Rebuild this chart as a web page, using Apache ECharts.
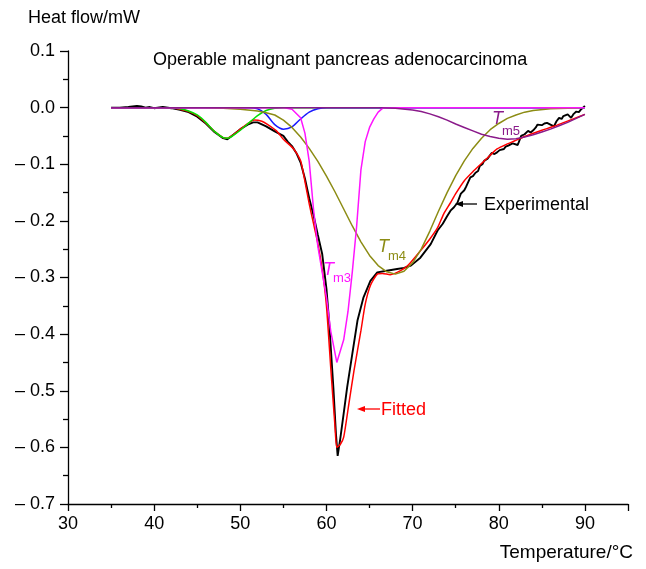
<!DOCTYPE html>
<html><head><meta charset="utf-8">
<script src="https://cdn.jsdelivr.net/npm/echarts/dist/echarts.min.js"></script>
<style>html,body{margin:0;padding:0;background:#fff}#c{width:646px;height:569px}</style>
</head><body><div id="c"></div>
<script>
// ---- data (Temperature °C, Heat flow mW) ----
const experimental = [[35,0],[36,0],[37,0.001],[37.5,0.002],[38,0.003],[38.5,0.002],[39,0],[39.5,0.001],[40,-0.001],[41,0.001],[42,-0.001],[43,-0.004],[44,-0.008],[45,-0.016],[46,-0.028],[47,-0.043],[48,-0.054],[48.5,-0.056],[49,-0.05],[50,-0.038],[51,-0.029],[51.5,-0.026],[52,-0.026],[53,-0.033],[54,-0.042],[55,-0.05],[55.5,-0.06],[56,-0.068],[56.5,-0.08],[57,-0.097],[57.5,-0.125],[58,-0.16],[58.5,-0.19],[59,-0.225],[59.5,-0.258],[60,-0.32],[60.3,-0.376],[60.8,-0.494],[61.1,-0.576],[61.3,-0.615],[61.6,-0.585],[62,-0.54],[62.4,-0.494],[63,-0.435],[63.6,-0.376],[64.3,-0.335],[65.1,-0.306],[65.9,-0.291],[67,-0.288],[68.2,-0.285],[69,-0.283],[69.8,-0.279],[70.9,-0.265],[72.1,-0.241],[72.9,-0.217],[73.5,-0.205],[74,-0.192],[74.4,-0.182],[74.8,-0.176],[75.2,-0.168],[75.6,-0.152],[76,-0.146],[76.2,-0.14],[76.7,-0.123],[77,-0.121],[77.3,-0.115],[77.6,-0.112],[77.8,-0.103],[78.1,-0.1],[78.3,-0.094],[78.7,-0.09],[79,-0.084],[79.2,-0.08],[79.5,-0.082],[79.8,-0.079],[80.1,-0.075],[80.3,-0.072],[80.6,-0.073],[80.8,-0.069],[81.1,-0.067],[81.3,-0.065],[81.6,-0.063],[81.8,-0.062],[82.2,-0.066],[82.6,-0.05],[83,-0.047],[83.4,-0.041],[83.7,-0.044],[84,-0.04],[84.3,-0.035],[84.5,-0.03],[85,-0.031],[85.3,-0.028],[85.6,-0.027],[86,-0.03],[86.4,-0.033],[86.7,-0.024],[87,-0.018],[87.3,-0.02],[87.5,-0.015],[88,-0.012],[88.4,-0.018],[88.7,-0.011],[89,-0.007],[89.3,-0.008],[89.5,-0.004],[90,0.003]];
const fitted = [[35,0],[42,0],[43,-0.003],[44,-0.007],[45,-0.014],[46,-0.027],[47,-0.042],[48,-0.053],[48.5,-0.054],[49,-0.05],[50,-0.038],[51,-0.027],[51.6,-0.022],[52.5,-0.024],[53.1,-0.029],[54.2,-0.041],[55,-0.056],[56.2,-0.073],[57,-0.094],[57.5,-0.13],[58,-0.17],[58.5,-0.205],[59,-0.24],[59.5,-0.285],[60,-0.35],[60.5,-0.46],[61,-0.565],[61.2,-0.6],[61.6,-0.595],[62,-0.582],[62.6,-0.523],[63.2,-0.464],[64,-0.394],[64.5,-0.347],[65.1,-0.314],[65.9,-0.294],[66.5,-0.293],[67.4,-0.295],[68.6,-0.288],[69.5,-0.278],[70.9,-0.253],[72,-0.232],[72.9,-0.212],[73.6,-0.188],[74.4,-0.168],[75,-0.152],[76,-0.129],[77,-0.113],[77.9,-0.1],[79,-0.084],[79.8,-0.073],[81,-0.064],[81.8,-0.059],[83,-0.051],[83.7,-0.047],[85,-0.04],[86.4,-0.033],[87.6,-0.026],[88.8,-0.019],[90,-0.012]];
const peak1 = [[35,0],[42,0],[43,-0.002],[44,-0.006],[45,-0.013],[46,-0.026],[47,-0.042],[48,-0.053],[48.5,-0.054],[49,-0.051],[50,-0.04],[51,-0.027],[52,-0.014],[53,-0.005],[54,-0.001],[55,0],[90,0]];
const peak2 = [[35,0],[51,0],[52,-0.002],[53,-0.012],[54,-0.03],[55,-0.038],[56,-0.034],[57,-0.02],[58,-0.008],[59,-0.002],[60,0],[90,0]];
const peakTm3 = [[35,0],[55,0],[56,-0.003],[57,-0.018],[57.5,-0.045],[58,-0.095],[58.5,-0.18],[59,-0.245],[60,-0.335],[60.5,-0.395],[61.2,-0.45],[62,-0.41],[62.5,-0.36],[63,-0.29],[63.5,-0.21],[64,-0.11],[64.5,-0.06],[65,-0.035],[65.5,-0.02],[66,-0.008],[66.6,0],[90,0]];
const peakTm4 = [[35,0],[45,0],[48,-0.001],[50,-0.003],[52,-0.006],[53,-0.009],[54,-0.013],[55,-0.022],[56,-0.035],[57,-0.052],[58,-0.072],[59,-0.095],[60,-0.121],[61,-0.149],[62,-0.179],[63,-0.209],[64,-0.237],[65,-0.261],[66,-0.279],[67,-0.290],[68,-0.294],[69,-0.289],[70,-0.274],[71,-0.250],[72,-0.218],[73,-0.183],[74,-0.150],[75,-0.120],[76,-0.094],[77,-0.072],[78,-0.054],[79,-0.039],[80,-0.028],[81,-0.019],[82,-0.013],[83,-0.008],[84,-0.005],[86,-0.002],[88,-0.001],[90,0]];
const peakTm5 = [[35,0],[66,0],[68,-0.001],[70,-0.004],[71,-0.007],[72,-0.011],[73,-0.016],[74,-0.022],[75,-0.029],[76,-0.035],[77,-0.041],[78,-0.047],[79,-0.051],[80,-0.054],[81,-0.056],[82,-0.055],[83,-0.052],[84,-0.048],[85,-0.043],[86,-0.038],[87,-0.032],[88,-0.026],[89,-0.019],[90,-0.012]];
const xTickLabels = [30,40,50,60,70,80,90];
const yTickLabels = [0.1,0.0,-0.1,-0.2,-0.3,-0.4,-0.5,-0.6,-0.7];

const FONT = '"Liberation Sans", Arial, sans-serif';
const chart = echarts.init(document.getElementById('c'), null, {renderer:'canvas'});

function line(name, data, color, width, smooth, z){
  return {name, type:'line', data, showSymbol:false, symbol:'none', smooth,
    lineStyle:{color, width}, z, animation:false, silent:true};
}
function txt(x,y,text,size,color,extra){
  return {type:'text', x, y, style:Object.assign({text, fontSize:size, fontFamily:FONT, fill:color, textVerticalAlign:'middle'}, extra||{})};
}

chart.setOption({
  animation:false,
  backgroundColor:'#fff',
  grid:{left:68, right:18, top:51, bottom:65, containLabel:false},
  xAxis:{type:'value', min:30, max:95, interval:10,
    axisLine:{show:true, onZero:false, lineStyle:{color:'#000', width:1.3}},
    axisTick:{show:true, inside:false, length:7, lineStyle:{color:'#000', width:1.3}},
    minorTick:{show:true, splitNumber:2, length:4, lineStyle:{color:'#000', width:1.3}},
    splitLine:{show:false},
    axisLabel:{color:'#000', fontSize:18, fontFamily:FONT, margin:11, showMaxLabel:false,
      formatter:v => xTickLabels.includes(v) ? String(v) : ''}
  },
  yAxis:{type:'value', min:-0.7, max:0.1, interval:0.1,
    axisLine:{show:true, onZero:false, lineStyle:{color:'#000', width:1.3}},
    axisTick:{show:true, inside:false, length:8, lineStyle:{color:'#000', width:1.3}},
    minorTick:{show:true, splitNumber:2, length:5, lineStyle:{color:'#000', width:1.3}},
    splitLine:{show:false},
    axisLabel:{color:'#000', fontSize:18, fontFamily:FONT, margin:13,
      formatter:v => { const r = Math.round(v*10)/10; const m = yTickLabels.find(t => Math.abs(t-r)<1e-9);
        if (m === undefined) return ''; return m < 0 ? '\u2013 ' + Math.abs(m).toFixed(1) : m.toFixed(1); }}
  },
  series:[
    line('Experimental', experimental, '#000000', 1.9, false, 2),
    line('Fitted', fitted, '#ff0000', 1.5, 0.2, 3),
    line('Tm1', peak1, '#00e000', 1.5, 0.25, 4),
    line('Tm2', peak2, '#1a1aff', 1.5, 0.25, 4),
    line('Tm4', peakTm4, '#8c8c14', 1.5, false, 4),
    line('Tm3', peakTm3, '#ff14ff', 1.5, false, 5),
    line('Tm5', peakTm5, '#8a1a8a', 1.5, false, 6)
  ],
  graphic:[
    txt(28,18,'Heat flow/mW',18,'#000'),
    txt(633,553,'Temperature/\u00b0C',19,'#000',{textAlign:'right'}),
    txt(153,60,'Operable malignant pancreas adenocarcinoma',18,'#000'),
    txt(484,205,'Experimental',18,'#000'),
    {type:'line', shape:{x1:460, y1:204, x2:477, y2:204}, style:{stroke:'#000', lineWidth:1.3}},
    {type:'polygon', shape:{points:[[455,204],[463,201],[463,207]]}, style:{fill:'#000'}},
    txt(381,410,'Fitted',18,'#ff0000'),
    {type:'line', shape:{x1:362, y1:409, x2:380, y2:409}, style:{stroke:'#ff0000', lineWidth:1.3}},
    {type:'polygon', shape:{points:[[357,409],[365,406],[365,412]]}, style:{fill:'#ff0000'}},
    txt(323,270,'T',18,'#ff14ff',{fontStyle:'italic'}),
    txt(333,278,'m3',13,'#ff14ff'),
    txt(378,247,'T',18,'#8c8c14',{fontStyle:'italic'}),
    txt(388,256,'m4',13,'#8c8c14'),
    txt(492,119,'T',18,'#8a1a8a',{fontStyle:'italic'}),
    txt(502,131,'m5',13,'#8a1a8a')
  ]
});
</script></body></html>
